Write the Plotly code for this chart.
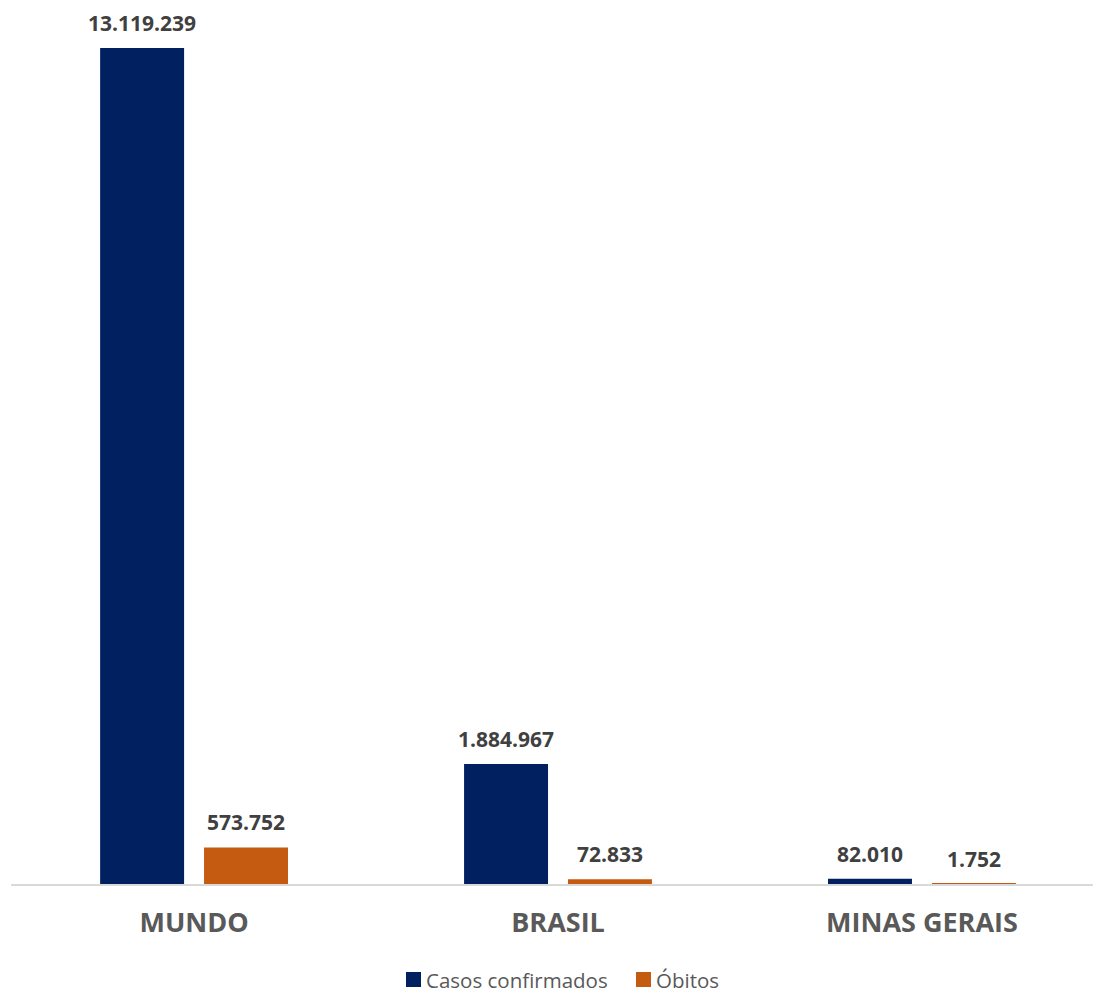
import plotly.graph_objects as go

categories = ["MUNDO", "BRASIL", "MINAS GERAIS"]
casos = [13119239, 1884967, 82010]
obitos = [573752, 72833, 1752]
series_names = ["Casos confirmados", "Óbitos"]
colors = ["#002060", "#C55A11"]

def fmt(v):
    return f"{v:,}".replace(",", ".")

W, H = 1093, 989
ML, MR, MT, MB = 11, 0, 10, 105
PW, PH = W - ML - MR, H - MT - MB

def px_x(p):
    return (p - ML) / PW

def px_y(p):
    return (H - MB - p) / PH

xs = list(range(len(categories)))
fig = go.Figure()
for name, vals, col in zip(series_names, [casos, obitos], colors):
    fig.add_trace(go.Bar(x=xs, y=vals, name=name, marker=dict(color=col, line=dict(width=0)),
                         hoverinfo="skip", showlegend=False))

# value labels
off = 0.143
for i in xs:
    for vals, dx in [(casos, -off), (obitos, off)]:
        fig.add_annotation(x=i + dx, y=vals[i], text=f"<b>{fmt(vals[i])}</b>", showarrow=False,
                           yanchor="bottom", yshift=9,
                           font=dict(family="Open Sans", size=21, color="#404040"))

# legend (key squares + labels) below the axis
legend_keys_px = [406, 636]
for name, col, kx in zip(series_names, colors, legend_keys_px):
    fig.add_shape(type="rect", xref="paper", yref="paper",
                  x0=px_x(kx), x1=px_x(kx + 15), y0=px_y(987), y1=px_y(972),
                  fillcolor=col, line=dict(width=0))
    fig.add_annotation(xref="paper", yref="paper", x=px_x(kx + 18), y=px_y(980),
                       xanchor="left", yanchor="middle", text=name, showarrow=False,
                       font=dict(family="Open Sans", size=20.5, color="#595959"))

ymax = 13119239 * (884 - 10) / 836
fig.update_layout(
    width=W, height=H,
    margin=dict(l=ML, r=MR, t=MT, b=MB, autoexpand=False),
    paper_bgcolor="white", plot_bgcolor="white",
    barmode="group", bargap=0.429, bargroupgap=0.192,
    font=dict(family="Open Sans", color="#595959"),
    xaxis=dict(range=[-0.503, 2.47], tickvals=xs, ticktext=[f"<b>{c}</b>" for c in categories],
               showline=True, linecolor="#D9D9D9", linewidth=2, showgrid=False, zeroline=False,
               ticks="", ticklabelstandoff=14, tickfont=dict(size=27, color="#595959")),
    yaxis=dict(range=[0, ymax], visible=False, showgrid=False, zeroline=False),
    showlegend=False,
)
fig.write_html("out.html", config={"displayModeBar": False},
               post_script="document.body.style.margin='0';")
